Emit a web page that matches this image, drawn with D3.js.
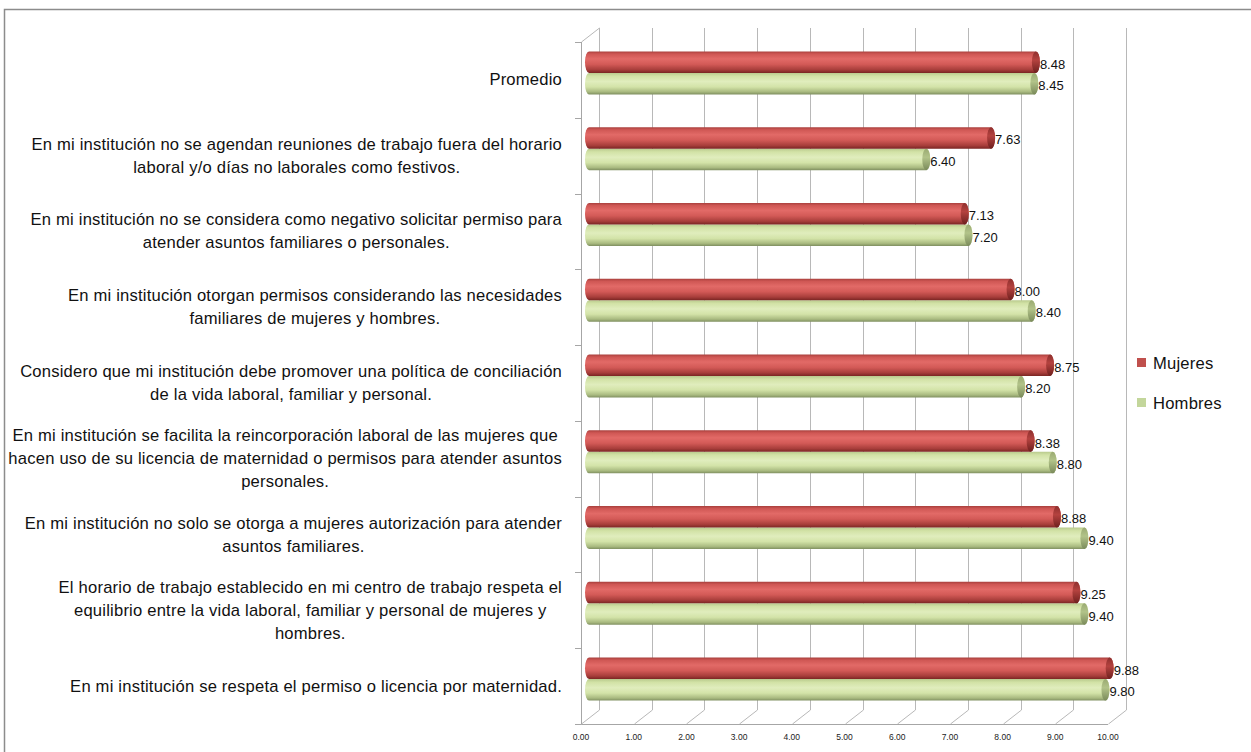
<!DOCTYPE html>
<html><head><meta charset="utf-8">
<script src="https://cdn.jsdelivr.net/npm/d3@7"></script>
<style>
html,body{margin:0;padding:0;background:#fff;}
svg{display:block;font-family:"Liberation Sans",Arial,sans-serif;}
</style></head>
<body>
<svg id="chart" width="1251" height="752"></svg>
<script>
const categories = [
  ["Promedio"],
  ["En mi institución no se agendan reuniones de trabajo fuera del horario","laboral y/o días no laborales como festivos."],
  ["En mi institución no se considera como negativo solicitar permiso para","atender asuntos familiares o personales."],
  ["En mi institución otorgan permisos considerando las necesidades","familiares de mujeres y hombres."],
  ["Considero que mi institución debe promover una política de conciliación","de la vida laboral, familiar y personal."],
  ["En mi institución se facilita la reincorporación laboral de las mujeres que","hacen uso de su licencia de maternidad o permisos para atender asuntos","personales."],
  ["En mi institución no solo se otorga a mujeres autorización para atender","asuntos familiares."],
  ["El horario de trabajo establecido en mi centro de trabajo respeta el","equilibrio entre la vida laboral, familiar y personal de mujeres y","hombres."],
  ["En mi institución se respeta el permiso o licencia por maternidad."]
];
const mujeres = [8.48, 7.63, 7.13, 8.00, 8.75, 8.38, 8.88, 9.25, 9.88];
const hombres = [8.45, 6.40, 7.20, 8.40, 8.20, 8.80, 9.40, 9.40, 9.80];
const seriesNames = ["Mujeres", "Hombres"];
const xTicks = [0,1,2,3,4,5,6,7,8,9,10];

const svg = d3.select("#chart");
const W = 1251, H = 752;
const dx = 18, dy = -14;
const x = d3.scaleLinear().domain([0,10]).range([581,1108]);
const y = d3.scaleBand().domain(d3.range(categories.length)).range([42,724]).padding(0);

svg.append("path").attr("d",`M4.5,${H} L4.5,9.5 L${W},9.5`).attr("fill","none").attr("stroke","#8c8c8c").attr("stroke-width",1.5);

const defs = svg.append("defs");
function grad(id, stops){
  const g = defs.append("linearGradient").attr("id",id).attr("x1",0).attr("y1",0).attr("x2",0).attr("y2",1);
  stops.forEach(s=>g.append("stop").attr("offset",s[0]).attr("stop-color",s[1]));
}
grad("gRed",[[0,"#a9403d"],[0.12,"#cf5754"],[0.35,"#e26a67"],[0.6,"#d35a57"],[0.85,"#a83e3b"],[1,"#7a2523"]]);
grad("gGreen",[[0,"#b9ca8d"],[0.15,"#d2e2a6"],[0.4,"#e0edbd"],[0.65,"#d3e3a8"],[0.88,"#a9ba80"],[1,"#7f8f60"]]);
grad("gRedCap",[[0,"#8e302e"],[0.4,"#b4423f"],[1,"#6e201e"]]);
grad("gGreenCap",[[0,"#9aaa72"],[0.4,"#b2c389"],[1,"#7a8a5a"]]);

const grid = svg.append("g").attr("stroke","#b8b8b8").attr("stroke-width",1).attr("fill","none");
const y0 = y.range()[0], y1 = y.range()[1];
xTicks.forEach(t=>{
  const xf = Math.round(x(t))+0.5;
  grid.append("line").attr("x1",xf+dx).attr("x2",xf+dx).attr("y1",y0+dy).attr("y2",y1+dy);
  grid.append("line").attr("x1",xf).attr("x2",xf+dx).attr("y1",y1).attr("y2",y1+dy);
});
grid.append("line").attr("x1",581.5).attr("x2",581.5+dx).attr("y1",y0).attr("y2",y0+dy);
svg.append("line").attr("x1",581.5).attr("x2",581.5).attr("y1",y0).attr("y2",y1+0.5).attr("stroke","#a6a6a6");
svg.append("line").attr("x1",581.5).attr("x2",x(10)).attr("y1",y1+0.5).attr("y2",y1+0.5).attr("stroke","#a6a6a6");
d3.range(categories.length+1).forEach(i=>{
  const yy = Math.round(y0 + i*y.bandwidth())+0.5;
  svg.append("line").attr("x1",575).attr("x2",581.5).attr("y1",yy).attr("y2",yy).attr("stroke","#a6a6a6");
});
svg.append("g").selectAll("text").data(xTicks).join("text")
  .attr("x",d=>x(d)).attr("y",740).attr("text-anchor","middle")
  .attr("font-size",8.5).attr("fill","#222").text(d=>d.toFixed(2));

const barH = 21.5;
const bx = 8, rx = 4;
function cyl(g, v, top, fill, capFill, label){
  const xa = x(0)+bx, xb = x(v)+bx, yb = top+barH, ry = barH/2;
  g.append("path").attr("d",`M${xa},${top} L${xb},${top} A${rx},${ry} 0 0 1 ${xb},${yb} L${xa},${yb} A${rx},${ry} 0 0 1 ${xa},${top} Z`)
   .attr("fill",`url(#${fill})`);
  g.append("ellipse").attr("cx",xb).attr("cy",top+ry).attr("rx",rx).attr("ry",ry)
   .attr("fill",`url(#${capFill})`);
  g.append("text").attr("x",xb+rx).attr("y",top+ry+6.5).attr("font-size",13).attr("fill","#111").text(label);
}
const bars = svg.append("g");
categories.forEach((c,i)=>{
  const mid = y(i)+y.bandwidth()/2 + dy/2;
  cyl(bars, hombres[i], mid, "gGreen","gGreenCap", hombres[i].toFixed(2));
  cyl(bars, mujeres[i], mid-barH, "gRed","gRedCap", mujeres[i].toFixed(2));
});

const lh = 23;
const labG = svg.append("g").attr("font-size",16.6).attr("letter-spacing",0.2).attr("fill","#111");
categories.forEach((lines,i)=>{
  const cy = y(i)+y.bandwidth()/2;
  const g = labG.append("g");
  const ts = lines.map((l,j)=>g.append("text").attr("y", cy + (j-(lines.length-1)/2)*lh + 5.5).text(l));
  const widths = ts.map(t=>t.node().getComputedTextLength());
  const mw = d3.max(widths);
  const cx = 562 - mw/2;
  ts.forEach(t=>t.attr("x",cx).attr("text-anchor","middle"));
});

const leg = svg.append("g");
[["Mujeres","#c0504d",363],["Hombres","#c3d69b",403]].forEach(([n,c,yy])=>{
  leg.append("rect").attr("x",1137).attr("y",yy-5).attr("width",9).attr("height",9).attr("fill",c);
  leg.append("text").attr("x",1153).attr("y",yy+6).attr("font-size",16.6).attr("letter-spacing",0.2).attr("fill","#111").text(n);
});
</script>
</body></html>
